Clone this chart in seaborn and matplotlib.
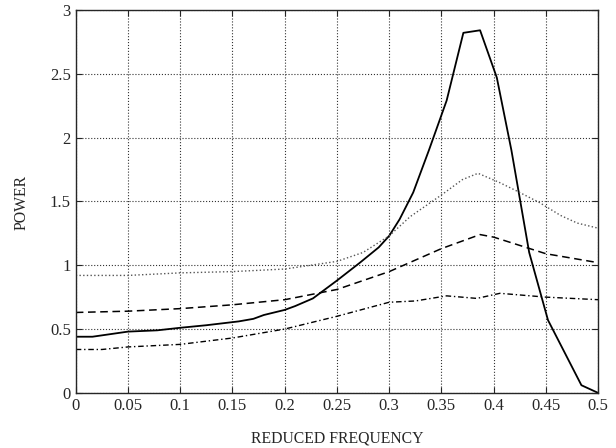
import numpy as np
import pandas as pd
import seaborn as sns
import matplotlib
matplotlib.use("Agg")
import matplotlib.pyplot as plt

# 실선 (피크가 큰 스펙트럼)
x_solid = [0.0, 0.016, 0.05, 0.078, 0.1, 0.125, 0.156, 0.17, 0.18, 0.2, 0.21,
           0.227, 0.25, 0.272, 0.29, 0.3, 0.31, 0.323, 0.338, 0.355, 0.371, 0.387,
           0.403, 0.417, 0.434, 0.452, 0.484, 0.5]
y_solid = [0.44, 0.44, 0.48, 0.49, 0.51, 0.53, 0.56, 0.58, 0.61, 0.65, 0.68,
           0.74, 0.88, 1.02, 1.14, 1.23, 1.36, 1.57, 1.90, 2.29, 2.82, 2.84,
           2.47, 1.90, 1.10, 0.57, 0.06, 0.0]

# 점선
x_dot = [0.0, 0.05, 0.1, 0.15, 0.2, 0.25, 0.275, 0.3, 0.32, 0.35, 0.37, 0.385,
         0.405, 0.42, 0.444, 0.464, 0.48, 0.5]
y_dot = [0.92, 0.92, 0.94, 0.95, 0.97, 1.03, 1.10, 1.23, 1.38, 1.55, 1.67, 1.72,
         1.65, 1.59, 1.49, 1.39, 1.33, 1.29]

# 파선
x_dash = [0.0, 0.05, 0.1, 0.15, 0.2, 0.25, 0.3, 0.35, 0.387, 0.4, 0.45, 0.5]
y_dash = [0.63, 0.64, 0.66, 0.69, 0.73, 0.81, 0.95, 1.13, 1.24, 1.22, 1.09, 1.02]

# 일점쇄선
x_dashdot = [0.0, 0.025, 0.05, 0.1, 0.15, 0.2, 0.25, 0.3, 0.325, 0.355, 0.384,
             0.406, 0.45, 0.5]
y_dashdot = [0.34, 0.34, 0.36, 0.38, 0.43, 0.50, 0.60, 0.71, 0.72, 0.76, 0.74,
             0.78, 0.75, 0.73]

x_ticks = [0, 0.05, 0.1, 0.15, 0.2, 0.25, 0.3, 0.35, 0.4, 0.45, 0.5]
x_tick_labels = ["0", "0.05", "0.1", "0.15", "0.2", "0.25", "0.3", "0.35", "0.4", "0.45", "0.5"]
y_ticks = [0, 0.5, 1, 1.5, 2, 2.5, 3]
y_tick_labels = ["0", "0.5", "1", "1.5", "2", "2.5", "3"]

sns.set_style("ticks")
plt.rcParams.update({
    "font.family": ["Liberation Serif", "DejaVu Serif"],
    "xtick.direction": "in",
    "ytick.direction": "in",
})

fig = plt.figure(figsize=(6.16, 4.48), dpi=100)
ax = fig.add_axes([0.123, 0.123, 0.848, 0.855])

sns.lineplot(x=x_solid, y=y_solid, ax=ax, color="black", linewidth=1.3, linestyle="-")
sns.lineplot(x=x_dot, y=y_dot, ax=ax, color="#555555", linewidth=1.0, linestyle=":")
sns.lineplot(x=x_dash, y=y_dash, ax=ax, color="black", linewidth=1.1, linestyle=(0, (5, 3)))
sns.lineplot(x=x_dashdot, y=y_dashdot, ax=ax, color="black", linewidth=1.0,
             linestyle=(0, (4, 2, 1, 2)))

ax.set_xlim(0, 0.5)
ax.set_ylim(0, 3)
ax.set_xticks(x_ticks)
ax.set_xticklabels(x_tick_labels)
ax.set_yticks(y_ticks)
ax.set_yticklabels(y_tick_labels)
ax.tick_params(labelsize=12, top=True, right=True, length=4, width=0.8)
ax.grid(True, linestyle=":", color="#333333", linewidth=0.8)

for s in ax.spines.values():
    s.set_visible(True)
    s.set_linewidth(1.0)

ax.set_xlabel("REDUCED FREQUENCY", fontsize=11.3, va="center")
ax.xaxis.set_label_coords(0.5, -0.119)
ax.set_ylabel("POWER", fontsize=11.3, va="center")
ax.yaxis.set_label_coords(-0.103, 0.496)

fig.savefig("out.png", dpi=100)
